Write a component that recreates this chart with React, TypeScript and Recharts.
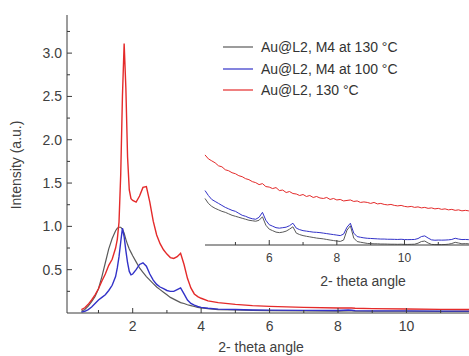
import React from 'react';
import { LineChart, Line, XAxis, YAxis, Label, Legend } from 'recharts';

// main pattern, shared 2-theta grid
const angles = [
  0.5, 0.6, 0.7, 0.8, 0.9, 1.0, 1.1, 1.2, 1.3, 1.4, 1.5, 1.55, 1.6, 1.65, 1.7, 1.75, 1.8, 1.85, 1.9, 1.95,
  2.0, 2.1, 2.2, 2.3, 2.4, 2.5, 2.6, 2.7, 2.8, 2.9, 3.0, 3.1, 3.2, 3.3, 3.4, 3.5, 3.6, 3.7, 3.8, 3.9,
  4.0, 4.2, 4.5, 5.0, 5.5, 6.0, 7.0, 8.0, 8.3, 8.4, 8.5, 9.0, 10.0, 11.0, 12.0, 12.5,
];
const grayM4At130 = [
  0.02, 0.04, 0.08, 0.13, 0.19, 0.28, 0.42, 0.58, 0.74, 0.86, 0.95, 0.98, 0.99, 0.99, 0.97, 0.92, 0.85, 0.79, 0.74, 0.7,
  0.66, 0.59, 0.52, 0.47, 0.42, 0.38, 0.34, 0.3, 0.27, 0.24, 0.21, 0.18, 0.16, 0.14, 0.12, 0.11, 0.095, 0.085, 0.075, 0.065,
  0.06, 0.05, 0.04, 0.035, 0.03, 0.028, 0.025, 0.022, 0.024, 0.023, 0.021, 0.02, 0.02, 0.018, 0.018, 0.018,
];
const blueM4At100 = [
  0.01, 0.02, 0.04, 0.07, 0.11, 0.15, 0.18, 0.21, 0.26, 0.32, 0.42, 0.52, 0.65, 0.82, 0.98, 0.88, 0.72, 0.58, 0.48, 0.44,
  0.45, 0.5, 0.56, 0.58, 0.54, 0.45, 0.38, 0.33, 0.3, 0.28, 0.26, 0.25, 0.25, 0.27, 0.29, 0.22, 0.15, 0.11, 0.09, 0.075,
  0.065, 0.055, 0.045, 0.04, 0.035, 0.033, 0.03, 0.028, 0.034, 0.032, 0.027, 0.025, 0.024, 0.022, 0.022, 0.022,
];
const redAt130 = [
  0.04, 0.06, 0.1, 0.15, 0.21, 0.28, 0.37, 0.45, 0.55, 0.62, 0.75, 0.85, 1.05, 1.6, 2.5, 3.11, 2.6, 1.8, 1.42, 1.32,
  1.3, 1.28, 1.35, 1.45, 1.46, 1.28, 1.06, 0.9, 0.8, 0.73, 0.68, 0.64, 0.63, 0.65, 0.69, 0.56, 0.4, 0.29, 0.22, 0.19,
  0.17, 0.14, 0.12, 0.1, 0.085, 0.076, 0.065, 0.058, 0.057, 0.058, 0.055, 0.05, 0.046, 0.042, 0.04, 0.04,
];

// inset (zoomed, arbitrary units)
const insetAngles = [
  4.1, 4.2, 4.3, 4.4, 4.5, 4.6, 4.7, 4.8, 4.9, 5.0, 5.1, 5.2, 5.3, 5.4, 5.5, 5.6, 5.7, 5.8, 5.9, 6.0,
  6.1, 6.2, 6.3, 6.4, 6.5, 6.6, 6.7, 6.8, 6.9, 7.0, 7.1, 7.2, 7.3, 7.4, 7.5, 7.6, 7.7, 7.8, 7.9, 8.0,
  8.1, 8.2, 8.3, 8.4, 8.5, 8.6, 8.7, 8.8, 8.9, 9.0, 9.1, 9.2, 9.3, 9.4, 9.5, 9.6, 9.7, 9.8, 9.9, 10.0,
  10.1, 10.2, 10.3, 10.4, 10.5, 10.6, 10.7, 10.8, 10.9, 11.0, 11.1, 11.2, 11.3, 11.4, 11.5, 11.6, 11.7, 11.8, 11.9, 12.0,
];
const insetGray = [
  0.47, 0.42, 0.39, 0.37, 0.355, 0.34, 0.33, 0.315, 0.3, 0.29, 0.28, 0.27, 0.26, 0.25, 0.245, 0.24, 0.25, 0.285, 0.2, 0.16,
  0.145, 0.13, 0.125, 0.13, 0.14, 0.16, 0.184, 0.12, 0.105, 0.095, 0.088, 0.082, 0.076, 0.07, 0.066, 0.062, 0.056, 0.05, 0.045, 0.04,
  0.036, 0.05, 0.15, 0.194, 0.07, 0.035, 0.028, 0.022, 0.016, 0.014, 0.012, 0.012, 0.01, 0.01, 0.009, 0.008, 0.008, 0.007, 0.008, 0.006,
  0.006, 0.007, 0.008, 0.018, 0.035, 0.04, 0.02, 0.006, 0.004, 0.004, 0.004, 0.005, 0.008, 0.015, 0.027, 0.02, 0.012, 0.014, 0.012, 0.014,
];
const insetBlue = [
  0.55, 0.5, 0.46, 0.44, 0.42, 0.4, 0.38, 0.365, 0.35, 0.34, 0.32, 0.3, 0.29, 0.275, 0.265, 0.26, 0.28, 0.33, 0.25, 0.205,
  0.19, 0.175, 0.17, 0.175, 0.18, 0.195, 0.22, 0.17, 0.155, 0.145, 0.14, 0.135, 0.13, 0.128, 0.125, 0.12, 0.115, 0.11, 0.105, 0.1,
  0.095, 0.11, 0.18, 0.22, 0.12, 0.085, 0.078, 0.072, 0.068, 0.066, 0.064, 0.062, 0.06, 0.06, 0.058, 0.058, 0.057, 0.056, 0.058, 0.055,
  0.054, 0.055, 0.056, 0.065, 0.085, 0.092, 0.07, 0.052, 0.048, 0.05, 0.049, 0.05, 0.052, 0.056, 0.068, 0.06, 0.055, 0.056, 0.054, 0.055,
];
const insetRed = [
  0.91, 0.87, 0.85, 0.83, 0.8, 0.79, 0.76, 0.75, 0.73, 0.72, 0.7, 0.69, 0.67, 0.66, 0.64, 0.63, 0.61, 0.62, 0.59, 0.585,
  0.57, 0.58, 0.55, 0.555, 0.53, 0.54, 0.52, 0.515, 0.5, 0.51, 0.49, 0.5, 0.48, 0.49, 0.475, 0.47, 0.48, 0.46, 0.47, 0.455,
  0.46, 0.445, 0.45, 0.455, 0.44, 0.445, 0.43, 0.435, 0.43, 0.42, 0.43, 0.415, 0.42, 0.41, 0.405, 0.41, 0.4, 0.395, 0.4, 0.39,
  0.385, 0.39, 0.38, 0.385, 0.375, 0.38, 0.37, 0.375, 0.365, 0.37, 0.36, 0.365, 0.355, 0.36, 0.35, 0.355, 0.345, 0.35, 0.345, 0.35,
];

const seriesNames = ['Au@L2, M4 at 130 °C', 'Au@L2, M4 at 100 °C', 'Au@L2, 130 °C'];
const seriesColors = ['#5a5a5a', '#3232c8', '#e42a2a'];

const mainXTicks = [1, 2, 3, 4, 5, 6, 7, 8, 9, 10, 11, 12];
const mainXMajor = [2, 4, 6, 8, 10, 12];
const mainXLabels = [2, 4, 6, 8, 10];
const mainYTicks = [0.25, 0.5, 0.75, 1, 1.25, 1.5, 1.75, 2, 2.25, 2.5, 2.75, 3, 3.25];
const mainYLabels = [0.5, 1, 1.5, 2, 2.5, 3];
const insetXTicks = [5, 6, 7, 8, 9, 10, 11, 12];
const insetXMajor = [6, 8, 10, 12];
const insetXLabels = [6, 8, 10];
const insetYTicks = [0.125, 0.25, 0.375, 0.5, 0.625, 0.75, 0.875];

const mainData = angles.map((a, i) => ({ angle: a, gray: grayM4At130[i], blue: blueM4At100[i], red: redAt130[i] }));
const insetData = insetAngles.map((a, i) => ({ angle: a, gray: insetGray[i], blue: insetBlue[i], red: insetRed[i] }));

const axisColor = '#3a3a3a';
const textColor = '#404040';
const font = '"Liberation Sans", Arial, sans-serif';

const makeXTick = (major: number[], labels: number[], side: 'bottom' | 'top', fontSize: number, labelDy: number) => (props: any) => {
  const { x, y, payload } = props;
  const len = major.includes(payload.value) ? 5 : 3;
  const dir = side === 'bottom' ? -1 : 1;
  return (
    <g>
      <line x1={x} x2={x} y1={y} y2={y + dir * len} stroke={axisColor} strokeWidth={1} />
      {side === 'bottom' && labels.includes(payload.value) && (
        <text x={x} y={y + labelDy} textAnchor="middle" fill={textColor} fontSize={fontSize} fontFamily={font}>
          {payload.value}
        </text>
      )}
    </g>
  );
};

const makeYTick = (labels: number[], showLabels: boolean, majorLen = 5) => (props: any) => {
  const { x, y, payload } = props;
  const major = labels.includes(payload.value);
  const len = major ? majorLen : 3;
  return (
    <g>
      <line x1={x} x2={x + len} y1={y} y2={y} stroke={axisColor} strokeWidth={1} />
      {showLabels && major && (
        <text x={x - 5} y={y + 5} textAnchor="end" fill={textColor} fontSize={14} fontFamily={font}>
          {payload.value.toFixed(1)}
        </text>
      )}
    </g>
  );
};

const LegendBox = () => (
  <div style={{ fontFamily: font, fontSize: 14, color: '#333' }}>
    {seriesNames.map((name, i) => (
      <div key={name} style={{ display: 'flex', alignItems: 'center', height: 21.7 }}>
        <svg width={38} height={10}>
          <line x1={0} x2={30} y1={5} y2={5} stroke={seriesColors[i]} strokeWidth={1.2} />
        </svg>
        <span>{name}</span>
      </div>
    ))}
  </div>
);

export default function App() {
  return (
    <div style={{ position: 'absolute', left: 0, top: 0, width: 469, height: 356, overflow: 'hidden', background: '#fff' }}>
      <LineChart width={500} height={356} data={mainData} margin={{ top: 15, right: 8, left: 0, bottom: 0 }}>
        <XAxis
          dataKey="angle"
          type="number"
          domain={[0.08, 12.5]}
          ticks={mainXTicks}
          interval={0}
          height={43}
          stroke={axisColor}
          tickLine={false}
          tickSize={0}
          tickMargin={0}
          tick={makeXTick(mainXMajor, mainXLabels, 'bottom', 14, 18)}
        >
          <Label
            content={() => (
              <text x={261} y={352} textAnchor="middle" fill={textColor} fontSize={14} fontFamily={font}>
                2- theta angle
              </text>
            )}
          />
        </XAxis>
        <XAxis
          xAxisId="top"
          orientation="top"
          dataKey="angle"
          type="number"
          domain={[0.08, 12.5]}
          ticks={mainXTicks}
          interval={0}
          height={0}
          stroke={axisColor}
          tickLine={false}
          tickSize={0}
          tickMargin={0}
          tick={makeXTick(mainXMajor, [], 'top', 14, 0)}
        />
        <YAxis
          type="number"
          domain={[0, 3.44]}
          ticks={mainYTicks}
          interval={0}
          width={67}
          stroke={axisColor}
          tickLine={false}
          tickSize={0}
          tickMargin={0}
          tick={makeYTick(mainYLabels, true)}
        >
          <Label
            content={() => (
              <text
                x={21}
                y={165}
                transform="rotate(-90 21 165)"
                textAnchor="middle"
                fill={textColor}
                fontSize={14}
                fontFamily={font}
              >
                Intensity (a.u.)
              </text>
            )}
          />
        </YAxis>
        <Legend
          layout="vertical"
          align="center"
          verticalAlign="middle"
          wrapperStyle={{ left: 223, top: 36, width: 220 }}
          content={<LegendBox />}
        />
        <Line dataKey="gray" name={seriesNames[0]} stroke={seriesColors[0]} strokeWidth={1.2} dot={false} isAnimationActive={false} />
        <Line dataKey="blue" name={seriesNames[1]} stroke={seriesColors[1]} strokeWidth={1.4} dot={false} isAnimationActive={false} />
        <Line dataKey="red" name={seriesNames[2]} stroke={seriesColors[2]} strokeWidth={1.4} dot={false} isAnimationActive={false} />
      </LineChart>

      <div style={{ position: 'absolute', left: 196, top: 140 }}>
        <LineChart width={300} height={150} data={insetData} margin={{ top: 6, right: 7, left: 9, bottom: 0 }}>
          <XAxis
            dataKey="angle"
            type="number"
            domain={[4.1, 12.5]}
            ticks={insetXTicks}
            interval={0}
            height={45}
            stroke={axisColor}
            tickLine={false}
            tickSize={0}
            tickMargin={0}
            tick={makeXTick(insetXMajor, insetXLabels, 'bottom', 12, 17)}
          >
            <Label
              content={() => (
                <text x={167} y={146} textAnchor="middle" fill={textColor} fontSize={14} fontFamily={font}>
                  2- theta angle
                </text>
              )}
            />
          </XAxis>
          <XAxis
            xAxisId="top"
            orientation="top"
            dataKey="angle"
            type="number"
            domain={[4.1, 12.5]}
            ticks={[]}
            height={0}
            stroke={axisColor}
            tick={false}
          />
          <YAxis
            type="number"
            domain={[0, 1]}
            ticks={insetYTicks}
            interval={0}
            width={0}
            stroke={axisColor}
            tickLine={false}
            tickSize={0}
            tickMargin={0}
            tick={makeYTick([0.25, 0.5, 0.75], false, 4)}
          />
          <Line dataKey="gray" stroke={seriesColors[0]} strokeWidth={1} dot={false} isAnimationActive={false} />
          <Line dataKey="blue" stroke={seriesColors[1]} strokeWidth={1} dot={false} isAnimationActive={false} />
          <Line dataKey="red" stroke={seriesColors[2]} strokeWidth={1} dot={false} isAnimationActive={false} />
        </LineChart>
      </div>
    </div>
  );
}
